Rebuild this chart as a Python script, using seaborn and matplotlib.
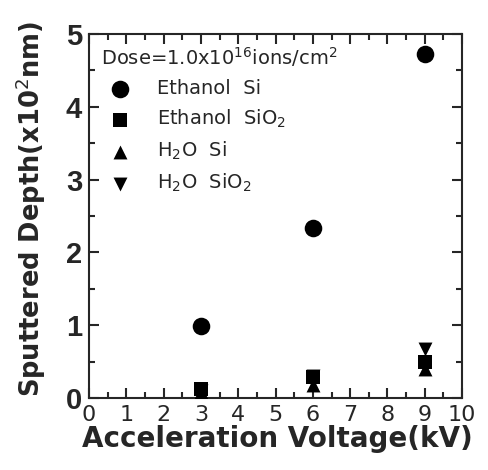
import matplotlib
matplotlib.use("Agg")
import matplotlib.pyplot as plt
from matplotlib.ticker import MultipleLocator
import seaborn as sns
import pandas as pd

# data
voltage = [3, 6, 9]
ethanol_si = [0.99, 2.34, 4.73]
ethanol_sio2 = [0.12, 0.29, 0.50]
h2o_si = [0.08, 0.18, 0.40]
h2o_sio2 = [0.10, 0.30, 0.67]

series_names = ["Ethanol  Si", "Ethanol  SiO$_2$", "H$_2$O  Si", "H$_2$O  SiO$_2$"]
series_values = [ethanol_si, ethanol_sio2, h2o_si, h2o_sio2]

rows = []
for name, vals in zip(series_names, series_values):
    for v, d in zip(voltage, vals):
        rows.append({"voltage": v, "depth": d, "series": name})
df = pd.DataFrame(rows)

sns.set_style("ticks")
plt.rcParams["font.family"] = ["DejaVu Sans"]
plt.rcParams["mathtext.fontset"] = "dejavusans"

fig = plt.figure(figsize=(4.89, 4.70), dpi=100)
ax = fig.add_axes([0.182, 0.153, 0.763, 0.775])

markers = {series_names[0]: "o", series_names[1]: "s",
           series_names[2]: "^", series_names[3]: "v"}
sizes = {series_names[0]: 160, series_names[1]: 100,
         series_names[2]: 100, series_names[3]: 100}

# draw order so the squares sit on top of the triangles like the reference
for name in [series_names[2], series_names[3], series_names[1], series_names[0]]:
    sub = df[df["series"] == name]
    sns.scatterplot(data=sub, x="voltage", y="depth", marker=markers[name],
                    s=sizes[name], color="black", edgecolor="black",
                    linewidth=0, ax=ax, label=name, zorder=3)

ax.set_xlim(0, 10)
ax.set_ylim(0, 5)
ax.xaxis.set_major_locator(MultipleLocator(1))
ax.xaxis.set_minor_locator(MultipleLocator(0.5))
ax.yaxis.set_major_locator(MultipleLocator(1))
ax.yaxis.set_minor_locator(MultipleLocator(0.5))
ax.tick_params(which="both", direction="in", top=True, right=True, width=1.5)
ax.tick_params(which="major", length=7)
ax.tick_params(which="minor", length=4)
ax.tick_params(axis="x", labelsize=16, pad=5)
ax.tick_params(axis="y", labelsize=21, pad=5)
for lab in ax.get_yticklabels():
    lab.set_family(["Liberation Sans", "DejaVu Sans"])
    lab.set_fontweight("bold")
for sp in ax.spines.values():
    sp.set_linewidth(1.5)
    sp.set_visible(True)

ax.set_xlabel("Acceleration Voltage(kV)", fontsize=20, fontweight="bold")
ax.set_ylabel("Sputtered Depth(x10$^2$nm)", fontsize=18.5, fontweight="bold")
ax.xaxis.set_label_coords(0.505, -0.075)
ax.xaxis.label.set_va("top")
ax.yaxis.set_label_coords(-0.11, 0.52)

handles, labels = ax.get_legend_handles_labels()
order = [labels.index(n) for n in series_names]
leg = ax.legend([handles[i] for i in order], [labels[i] for i in order],
                title="Dose=1.0x10$^{16}$ions/cm$^2$", loc="upper left",
                frameon=False, fontsize=14, title_fontsize=14,
                handletextpad=0.9, borderaxespad=0.2, labelspacing=0.5,
                alignment="left")

fig.savefig("out.png", dpi=100)
